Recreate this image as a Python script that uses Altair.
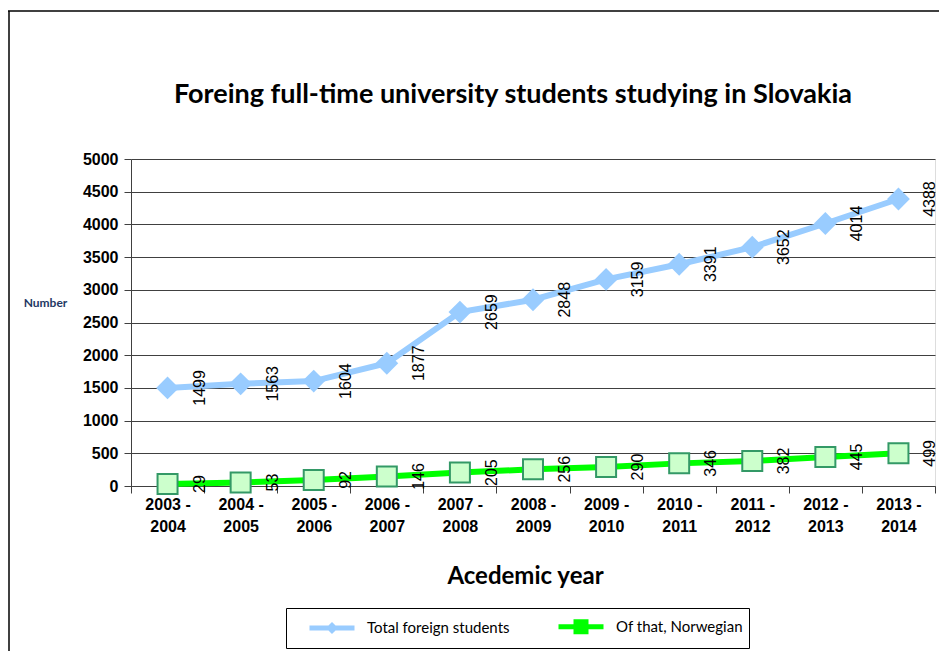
import altair as alt
import pandas as pd

years = ["2003 - 2004", "2004 - 2005", "2005 - 2006", "2006 - 2007", "2007 - 2008",
         "2008 - 2009", "2009 - 2010", "2010 - 2011", "2011 - 2012", "2012 - 2013",
         "2013 - 2014"]
total = [1499, 1563, 1604, 1877, 2659, 2848, 3159, 3391, 3652, 4014, 4388]
norwegian = [29, 53, 92, 146, 205, 256, 290, 346, 382, 445, 499]
series_names = ["Total foreign students", "Of that, Norwegian"]
y_ticks = list(range(0, 5001, 500))

rows = []
for y, t, n in zip(years, total, norwegian):
    rows.append({"year": y, "series": series_names[0], "value": t})
    rows.append({"year": y, "series": series_names[1], "value": n})
df = pd.DataFrame(rows)
dummy = pd.DataFrame({"a": [0]})

blue = "#99CCFF"
green = "#00FF00"
grid_col = "#404040"

x_enc = alt.X(
    "year:N", sort=years,
    scale=alt.Scale(type="band", paddingInner=0, paddingOuter=0),
    title="Acedemic year",
    axis=alt.Axis(
        labelExpr="[slice(datum.label, 0, 6), slice(datum.label, 7)]",
        labelFont="Liberation Sans", labelFontWeight="bold", labelFontSize=16,
        labelColor="black", labelAngle=0, labelLineHeight=22, labelPadding=3,
        labelBaseline="top",
        tickBand="extent", tickSize=7, tickColor=grid_col, domainColor=grid_col,
        grid=False,
        titleFont="Lato", titleFontSize=24, titleFontWeight="bold",
        titleColor="black", titlePadding=30, titleX=394, titleAlign="center",
    ),
)
y_enc = alt.Y(
    "value:Q",
    scale=alt.Scale(domain=[0, 5000], nice=False),
    title="Number",
    axis=alt.Axis(
        values=y_ticks, format="d", labelFont="Liberation Sans", labelFontWeight="bold",
        labelFontSize=16, labelColor="black", labelPadding=6,
        tickSize=7, tickColor=grid_col, domainColor=grid_col,
        grid=True, gridColor=grid_col, gridWidth=1,
        titleAngle=0, titleX=-86, titleY=143, titleAlign="center",
        titleBaseline="middle", titleFont="Lato", titleFontSize=12,
        titleFontWeight="bold", titleColor="#1F3864",
    ),
)

legend = alt.Legend(
    title=None, orient="none", legendX=155, legendY=449,
    direction="horizontal", columns=2, columnPadding=31,
    strokeColor="black", padding=6,
    labelFont="Lato", labelFontSize=15, labelColor="black",
    labelOffset=50, symbolSize=400, symbolStrokeWidth=5,
    symbolFillColor="#CCFFCC",
)
color_scale = alt.Scale(domain=series_names, range=[blue, green])
legend_paths = [
    "M0.5,0L5,0M2.5,0L2.75,-0.25L3.0,0L2.75,0.25Z",
    "M0.5,0L5,0M2.25,-0.5L3.25,-0.5L3.25,0.5L2.25,0.5Z",
]

base = alt.Chart(df)

lines = base.mark_line(strokeWidth=6, strokeCap="round").encode(
    x=x_enc, y=y_enc,
    color=alt.Color("series:N", scale=color_scale, legend=legend),
)

legend_carrier = base.transform_filter(alt.datum.value < 0).mark_point(
    filled=False, size=400, strokeWidth=5, opacity=1
).encode(
    x=x_enc, y=y_enc,
    color=alt.Color("series:N", scale=color_scale, legend=legend),
    shape=alt.Shape("series:N",
                    scale=alt.Scale(domain=series_names, range=legend_paths),
                    legend=legend),
)

diamonds = base.transform_filter(
    alt.datum.series == series_names[0]
).mark_point(shape="diamond", filled=True, size=520, fill=blue, opacity=1).encode(
    x=x_enc, y=y_enc
)

squares = base.transform_filter(
    alt.datum.series == series_names[1]
).mark_point(shape="square", filled=True, size=400, fill="#CCFFCC",
             stroke="#339966", strokeWidth=2, opacity=1).encode(
    x=x_enc, y=y_enc
)

labels = base.mark_text(
    angle=270, dy=32, align="center", baseline="middle",
    font="Liberation Sans", fontSize=16, color="black"
).encode(x=x_enc, y=y_enc, text="value:Q")

frame_top = alt.Chart(dummy).mark_rule(color="black", strokeWidth=1.5).encode(
    x=alt.value(-123), x2=alt.value(812), y=alt.value(-148)
)
frame_left = alt.Chart(dummy).mark_rule(color="black", strokeWidth=1.5).encode(
    x=alt.value(-122), y=alt.value(-148), y2=alt.value(500)
)

chart = alt.layer(frame_top, frame_left, lines, legend_carrier, diamonds, squares,
                  labels).properties(
    width=804, height=327,
    autosize=alt.AutoSizeParams(type="none"),
    padding={"left": 123, "top": 151, "right": 4, "bottom": 165},
    title=alt.Title(
        "Foreing full-time university students studying in Slovakia",
        font="Lato", fontSize=27, fontWeight="bold", color="black",
        anchor="middle", frame="group", dx=-20, offset=-99,
    ),
).configure_view(stroke="#999999", strokeWidth=1.5).configure(background="white")

chart.save("out.html", embed_options={"renderer": "svg", "actions": False})
